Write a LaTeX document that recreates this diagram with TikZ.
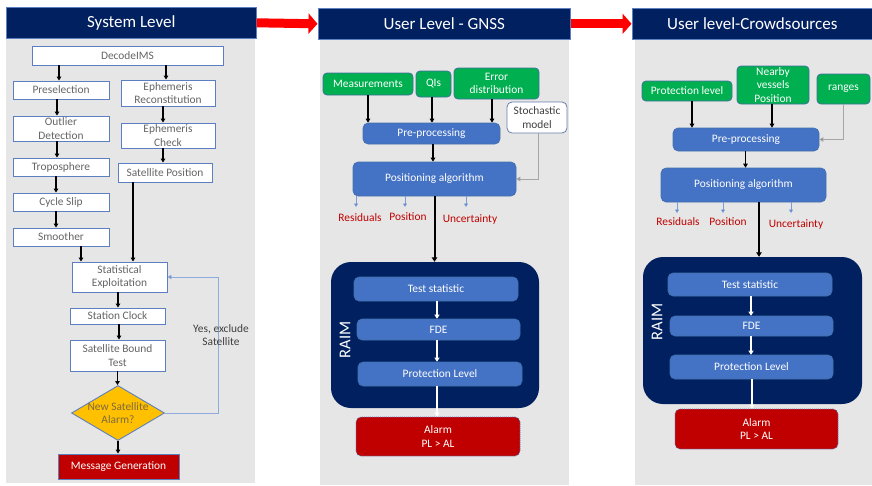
\documentclass[tikz,border=0pt]{standalone}
\usepackage{fontspec}
\setmainfont{Carlito}
\usetikzlibrary{arrows.meta,shapes.geometric,calc}

\definecolor{navy}{HTML}{002060}
\definecolor{panelgray}{HTML}{E7E6E6}
\definecolor{boxblue}{HTML}{4472C4}
\definecolor{edgeblue}{HTML}{5B7FC0}
\definecolor{darkedge}{HTML}{41719C}
\definecolor{okgreen}{HTML}{00B050}
\definecolor{alarmred}{HTML}{C00000}
\definecolor{warnyellow}{HTML}{FFC000}
\definecolor{softtext}{HTML}{656565}
\definecolor{looplue}{HTML}{8FAADC}
\definecolor{qtext}{HTML}{7F6A3F}

\begin{document}
\begin{tikzpicture}[x=1pt,y=-1pt,
  txt/.style={font=\fontsize{11.4}{13.5}\selectfont, align=center, inner sep=1pt},
  panel/.style={fill=panelgray, draw=none, anchor=north west, inner sep=0pt},
  header/.style={fill=navy, draw=edgeblue, line width=0.6pt, anchor=north west,
    inner sep=0pt, text=white, font=\fontsize{17}{20}\selectfont},
  sysbox/.style={txt, draw=edgeblue, line width=0.9pt, fill=white, text=softtext},
  inbox/.style={txt, draw=darkedge, line width=0.8pt, fill=okgreen, text=white, rounded corners=4pt},
  procbox/.style={txt, draw=darkedge!60!boxblue, line width=0.6pt, fill=boxblue, text=white, rounded corners=5pt},
  raimbox/.style={draw=none, fill=navy, rounded corners=20pt, inner sep=0pt},
  alarmbox/.style={txt, draw=edgeblue, dash pattern=on 1pt off 1pt, line width=0.7pt,
    fill=alarmred, text=white, rounded corners=5pt},
  outlbl/.style={txt, text=alarmred},
  arr/.style={line width=1.2pt, -{Triangle[length=4pt,width=4.5pt]}},
  thickarr/.style={line width=2pt, -{Triangle[length=4.5pt,width=5.5pt]}},
  whitearr/.style={white, line width=1.5pt, -{Triangle[length=4pt,width=5pt]}},
  smallarr/.style={boxblue!70, line width=0.7pt, -{Triangle[length=3.5pt,width=4pt,fill=boxblue]}},
  sidearr/.style={draw=gray!70, line width=1pt, -{Triangle[length=4pt,width=4.5pt,fill=black!80]}},
  bigarrow/.style={red, line width=9pt, -{Triangle[length=9pt,width=20pt]}}
]
\useasboundingbox (0,0) rectangle (872,485);

% ---------- panel backgrounds and titles ----------
\node[panel, minimum width=249pt, minimum height=445pt] (bg1) at (6,38) {};
\node[panel, minimum width=249pt, minimum height=446pt] (bg2) at (320,39) {};
\node[panel, minimum width=237pt, minimum height=446pt] (bg3) at (635,39) {};

\node[header, minimum width=250pt, minimum height=31pt] (h1) at (6,7) {System Level};
\node[header, minimum width=252pt, minimum height=31pt] (h2) at (318,8) {User Level - GNSS};
\node[header, minimum width=240pt, minimum height=31pt] (h3) at (632,8) {User level-Crowdsources};

\draw[bigarrow] (h1.east) -- ([xshift=-0.5pt]h2.west);
\draw[bigarrow] (h2.east) -- ([xshift=-0.5pt]h3.west);

% ---------- system level flow ----------
\node[sysbox, minimum width=191pt, minimum height=19pt] (dec) at (127.5,55.5) {DecodeIMS};
\node[sysbox, minimum width=96pt, minimum height=18pt] (pres) at (61,90) {Preselection};
\node[sysbox, minimum width=96pt, minimum height=25pt] (outl) at (61,128.5) {Outlier\\Detection};
\node[sysbox, minimum width=96pt, minimum height=18pt] (trop) at (61,167) {Troposphere};
\node[sysbox, minimum width=96pt, minimum height=18pt] (cyc) at (61,202) {Cycle Slip};
\node[sysbox, minimum width=96pt, minimum height=18pt] (smo) at (61,237) {Smoother};
\node[sysbox, minimum width=94pt, minimum height=26pt] (ephr) at (168,93) {Ephemeris\\Reconstitution};
\node[sysbox, minimum width=94pt, minimum height=25pt] (ephc) at (168,135.5) {Ephemeris\\Check};
\node[sysbox, minimum width=94pt, minimum height=19pt] (satp) at (165,172.5) {Satellite Position};
\node[sysbox, minimum width=95pt, minimum height=30pt] (stat) at (119.5,277) {Statistical\\Exploitation};
\node[sysbox, minimum width=95pt, minimum height=16pt] (clk) at (117.5,316) {Station Clock};
\node[sysbox, minimum width=95pt, minimum height=31pt] (sbt) at (117.5,355.5) {Satellite Bound\\Test};
\node[diamond, draw=edgeblue, line width=0.9pt, fill=warnyellow, inner sep=0pt,
  minimum width=93pt, minimum height=55pt] (nsa) at (118,413) {};
\node[txt, text=qtext] (nsatxt) at (nsa.center) {New Satellite\\Alarm?};
\node[txt, draw=edgeblue, line width=0.9pt, fill=alarmred, text=white,
  minimum width=121pt, minimum height=25pt] (msg) at (118.5,466.5) {Message Generation};

\draw[arr] ([xshift=-2pt]dec.south -| pres.north) -- ([xshift=-2pt]pres.north);
\draw[arr] ([xshift=-2pt]dec.south -| ephr.north) -- ([xshift=-2pt]ephr.north);
\draw[arr] ([xshift=-4pt]pres.south) -- ([xshift=-4pt]outl.north);
\draw[arr] ([xshift=-4pt]outl.south) -- ([xshift=-4pt]trop.north);
\draw[arr] ([xshift=-5pt]trop.south) -- ([xshift=-5pt]cyc.north);
\draw[arr] ([xshift=-5pt]cyc.south) -- ([xshift=-5pt]smo.north);
\draw[arr] ([xshift=-5pt]ephr.south) -- ([xshift=-5pt]ephc.north);
\draw[arr] ([xshift=-5pt]ephc.south) -- ([xshift=-5pt]ephc.south |- satp.north);
\draw[arr] ([xshift=20pt]smo.south) -- ([xshift=20pt]smo.south |- stat.north);
\draw[arr] ([xshift=-32pt]satp.south) -- ([xshift=-32pt]satp.south |- stat.north);
\draw[arr] ([xshift=-1.5pt]stat.south) -- ([xshift=-1.5pt]stat.south |- clk.north);
\draw[arr] ([xshift=1.5pt]clk.south) -- ([xshift=1.5pt]sbt.north);
\draw[arr] (sbt.south) -- (sbt.south |- nsa.north);
\draw[arr] (nsa.south) -- (nsa.south |- msg.north);
\draw[looplue, line width=0.8pt, -{Triangle[length=4pt,width=4.5pt,fill=boxblue]}]
  (nsa.east) -- ++(53,0) coordinate (loopc) |- (stat.east);
\node[txt, text=black!75] (yes) at (221,335) {Yes, exclude\\Satellite};

% ---------- user level: GNSS ----------
\node[inbox, minimum width=90pt, minimum height=22pt] (meas) at (368,84) {Measurements};
\node[inbox, minimum width=35pt, minimum height=26pt] (qis) at (433.5,84) {QIs};
\node[inbox, minimum width=85pt, minimum height=31pt] (err) at (496.5,83.5) {Error\\distribution};
\node[txt, draw=edgeblue!70!gray, line width=0.8pt, fill=white, text=black!75, rounded corners=5pt,
  minimum width=60pt, minimum height=31pt] (stoch) at (537,117.5) {Stochastic\\model};
\node[procbox, minimum width=137pt, minimum height=21pt] (pre2) at (431.5,133.5) {Pre-processing};
\node[procbox, minimum width=163pt, minimum height=34pt] (pos2) at (434.5,179) {Positioning algorithm};

\draw[arr] (meas.south) -- (meas.south |- pre2.north);
\draw[arr] ([xshift=-1.5pt]qis.south) -- ([xshift=-1.5pt]qis.south |- pre2.north);
\draw[arr] ([xshift=-4.5pt]err.south) -- ([xshift=-4.5pt]err.south |- pre2.north);
\draw[arr] ([xshift=1.5pt]pre2.south) -- ([xshift=1.5pt]pre2.south |- pos2.north);
\draw[sidearr] ([xshift=1pt]stoch.south) |- (pos2.east);

\node[outlbl] (res2) at (360,218) {Residuals};
\node[outlbl] (posl2) at (408,217) {Position};
\node[outlbl] (unc2) at (470,219) {Uncertainty};
\draw[smallarr] (pos2.south -| 356,0) -- (356,207);
\draw[smallarr] (pos2.south -| 405,0) -- (405,207);
\draw[smallarr] (pos2.south -| 466,0) -- (466,207);

\node[raimbox, minimum width=208pt, minimum height=146pt] (raim2) at (435,335) {};
\node[text=white, rotate=90, font=\fontsize{16.5}{18}\selectfont] (raimlbl2) at (345,340) {RAIM};
\node[procbox, minimum width=164pt, minimum height=24pt] (ts2) at (436,289) {Test statistic};
\node[procbox, minimum width=163pt, minimum height=21pt] (fde2) at (438.5,329.5) {FDE};
\node[procbox, minimum width=164pt, minimum height=24pt] (pl2) at (440,374) {Protection Level};
\node[alarmbox, minimum width=164pt, minimum height=39pt] (al2) at (438,436.5) {Alarm\\PL {>} AL};

\draw[thickarr] (pos2.south) -- (pos2.south |- raim2.north);
\draw[whitearr] (ts2.south -| 437,0) -- (fde2.north -| 437,0);
\draw[whitearr] (fde2.south -| 437,0) -- (pl2.north -| 437,0);
\draw[whitearr] (pl2.south -| 437,0) -- (al2.north -| 437,0);

% ---------- user level: crowdsourced ----------
\node[inbox, minimum width=90pt, minimum height=20pt] (prl) at (687,91) {Protection level};
\node[inbox, minimum width=72pt, minimum height=38pt] (near) at (773,85) {Nearby\\vessels\\Position};
\node[inbox, minimum width=53pt, minimum height=30pt] (rng) at (843.5,89) {ranges};
\node[procbox, minimum width=146pt, minimum height=23pt] (pre3) at (746,139.5) {Pre-processing};
\node[procbox, minimum width=165pt, minimum height=34pt] (pos3) at (743.5,185) {Positioning algorithm};

\draw[arr] ([xshift=5pt]prl.south) -- ([xshift=5pt]prl.south |- pre3.north);
\draw[arr] ([xshift=-1pt]near.south) -- ([xshift=-1pt]near.south |- pre3.north);
\draw[arr] ([xshift=-0.5pt]pre3.south) -- ([xshift=-0.5pt]pre3.south |- pos3.north);
\draw[sidearr] (rng.south) |- (pre3.east);

\node[outlbl] (res3) at (678,222) {Residuals};
\node[outlbl] (posl3) at (728,222) {Position};
\node[outlbl] (unc3) at (796,224) {Uncertainty};
\draw[smallarr] (pos3.south -| 677,0) -- (677,213);
\draw[smallarr] (pos3.south -| 723,0) -- (723,213);
\draw[smallarr] (pos3.south -| 791,0) -- (791,213);

\node[raimbox, minimum width=219pt, minimum height=147pt] (raim3) at (752.5,330.5) {};
\node[text=white, rotate=90, font=\fontsize{16.5}{18}\selectfont] (raimlbl3) at (657,322) {RAIM};
\node[procbox, minimum width=164pt, minimum height=23pt] (ts3) at (750,284.5) {Test statistic};
\node[procbox, minimum width=163pt, minimum height=20pt] (fde3) at (751.5,326) {FDE};
\node[procbox, minimum width=163pt, minimum height=24pt] (pl3) at (751.5,367) {Protection Level};
\node[alarmbox, minimum width=163pt, minimum height=40pt] (al3) at (756.5,429) {Alarm\\PL {>} AL};

\draw[thickarr] ([xshift=15.5pt]pos3.south) -- ([xshift=15.5pt]pos3.south |- raim3.north);
\draw[whitearr] (ts3.south -| 751,0) -- (fde3.north -| 751,0);
\draw[whitearr] (fde3.south -| 751,0) -- (pl3.north -| 751,0);
\draw[whitearr] (pl3.south -| 752,0) -- (al3.north -| 752,0);
\end{tikzpicture}
\end{document}
